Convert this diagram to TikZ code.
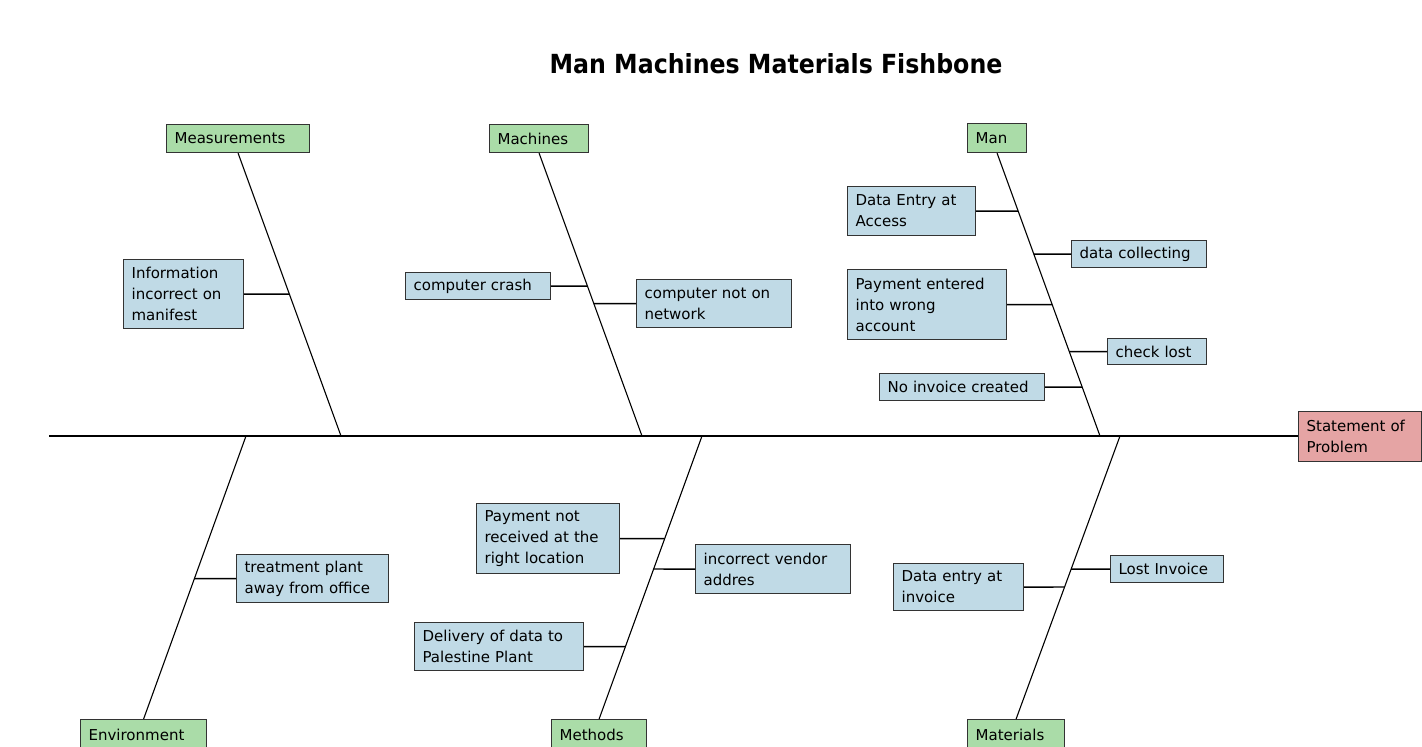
\documentclass[tikz,border=0pt]{standalone}
\usepackage{fontspec}
\setmainfont{DejaVu Sans}
\newfontfamily\titlefont[FakeStretch=0.9]{DejaVu Sans}
\usetikzlibrary{calc}
\definecolor{catgreen}{RGB}{170,220,168}
\definecolor{causeblue}{RGB}{192,218,230}
\definecolor{probred}{RGB}{229,164,164}
\tikzset{
    catbox/.style={draw=black!80,line width=1.2pt,fill=catgreen,anchor=north west,
        inner xsep=8pt,inner ysep=0pt,align=left,font=\fontsize{15}{21}\selectfont},
    causebox/.style={catbox,fill=causeblue},
    probbox/.style={catbox,fill=probred},
    spine/.style={line width=1.4pt},
    bone/.style={line width=1.1pt},
    twig/.style={line width=1.3pt}
}

\begin{document}
\begin{tikzpicture}[x=1pt,y=-1pt]
                \useasboundingbox (0,0) rectangle (1422,747);

                \node[anchor=base,font=\titlefont\bfseries\fontsize{26.3}{30}\selectfont] (title) at (776,73) {Man Machines Materials Fishbone};

                \node[catbox,text width=127pt,minimum height=28pt] (meas) at (166,124) {Measurements};
                \node[catbox,text width=83pt,minimum height=28pt] (mach) at (489,124) {Machines};
                \node[catbox,text width=43pt,minimum height=29pt] (man) at (967,123) {Man};
                \node[catbox,text width=110pt,minimum height=30pt] (env) at (80,719) {Environment};
                \node[catbox,text width=79pt,minimum height=30pt] (meth) at (551,719) {Methods};
                \node[catbox,text width=81pt,minimum height=30pt] (mat) at (967,719) {Materials};
                \node[probbox,text width=107pt,minimum height=50pt] (prob) at (1298,411) {Statement of\\Problem};

                \coordinate (tail) at (49,436);
                \coordinate (measS) at (341,436);
                \coordinate (machS) at (642,436);
                \coordinate (manS) at (1100,436);
                \coordinate (envS) at (246,436);
                \coordinate (methS) at (702,436);
                \coordinate (matS) at (1120,436);

                \draw[spine] (tail) -- (tail -| prob.west);
                \draw[bone] (meas.south) -- (measS);
                \draw[bone] (mach.south) -- (machS);
                \draw[bone] (man.south) -- (manS);
                \draw[bone] (envS) -- (env.north);
                \draw[bone] (methS) -- (meth.north);
                \draw[bone] (matS) -- (mat.north);

                \node[causebox,text width=104pt,minimum height=69pt] (info) at (123,259) {Information\\incorrect on\\manifest};
                \node[causebox,text width=129pt,minimum height=27pt] (crash) at (405,272) {computer crash};
                \node[causebox,text width=139pt,minimum height=48pt] (net) at (636,279) {computer not on\\network};
                \node[causebox,text width=112pt,minimum height=49pt] (access) at (847,186) {Data Entry at\\Access};
                \node[causebox,text width=119pt,minimum height=27pt] (collect) at (1071,240) {data collecting};
                \node[causebox,text width=143pt,minimum height=70pt] (wrong) at (847,269) {Payment entered\\into wrong\\account};
                \node[causebox,text width=83pt,minimum height=26pt] (check) at (1107,338) {check lost};
                \node[causebox,text width=149pt,minimum height=27pt] (noinv) at (879,373) {No invoice created};
                \node[causebox,text width=136pt,minimum height=48pt] (treat) at (236,554) {treatment plant\\away from office};
                \node[causebox,text width=127pt,minimum height=70pt] (notrec) at (476,503) {Payment not\\received at the\\right location};
                \node[causebox,text width=139pt,minimum height=49pt] (vendor) at (695,544) {incorrect vendor\\addres};
                \node[causebox,text width=153pt,minimum height=48pt] (deliv) at (414,622) {Delivery of data to\\Palestine Plant};
                \node[causebox,text width=114pt,minimum height=47pt] (dinv) at (893,563) {Data entry at\\invoice};
                \node[causebox,text width=97pt,minimum height=27pt] (lost) at (1110,555) {Lost Invoice};

                \draw[twig] (info.east) -- (intersection of info.west--info.east and meas.south--measS);
                \draw[twig] (crash.east) -- (intersection of crash.west--crash.east and mach.south--machS);
                \draw[twig] (net.west) -- (intersection of net.west--net.east and mach.south--machS);
                \draw[twig] (access.east) -- (intersection of access.west--access.east and man.south--manS);
                \draw[twig] (collect.west) -- (intersection of collect.west--collect.east and man.south--manS);
                \draw[twig] (wrong.east) -- (intersection of wrong.west--wrong.east and man.south--manS);
                \draw[twig] (check.west) -- (intersection of check.west--check.east and man.south--manS);
                \draw[twig] (noinv.east) -- (intersection of noinv.west--noinv.east and man.south--manS);
                \draw[twig] (treat.west) -- (intersection of treat.west--treat.east and envS--env.north);
                \draw[twig] (notrec.east) -- (intersection of notrec.west--notrec.east and methS--meth.north);
                \draw[twig] (vendor.west) -- (intersection of vendor.west--vendor.east and methS--meth.north);
                \draw[twig] (deliv.east) -- (intersection of deliv.west--deliv.east and methS--meth.north);
                \draw[twig] (dinv.east) -- (intersection of dinv.west--dinv.east and matS--mat.north);
                \draw[twig] (lost.west) -- (intersection of lost.west--lost.east and matS--mat.north);
            \end{tikzpicture}
\end{document}
